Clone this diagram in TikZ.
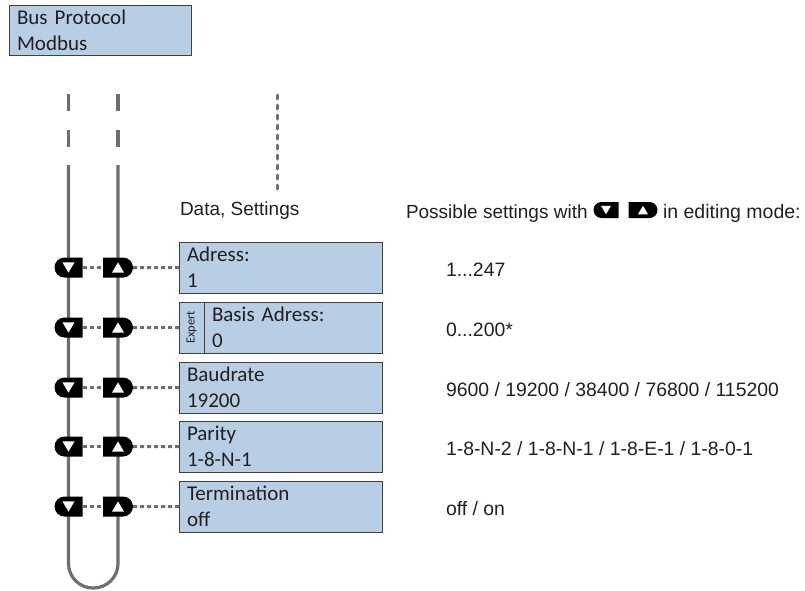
\documentclass[tikz,border=0pt]{standalone}
\usepackage{fontspec}
\setmainfont{Carlito}
\newfontfamily\arialfont{Liberation Sans}
\usepackage{graphicx}
\usepackage{xcolor}
\usetikzlibrary{positioning,shapes.misc}
\definecolor{boxblue}{RGB}{184,206,228}
\definecolor{boxline}{RGB}{64,64,64}
\definecolor{loopgray}{RGB}{110,110,110}
\definecolor{txt}{RGB}{35,31,32}

\begin{document}
\begin{tikzpicture}[x=1pt, y=-1pt, outer sep=0pt,
    menubox/.style={rectangle, draw=boxline, line width=1pt, fill=boxblue, text=txt,
      minimum height=51pt, inner xsep=8pt, inner ysep=0pt, align=left, anchor=north west,
      font=\fontsize{21pt}{26pt}\selectfont},
    expertbox/.style={rectangle, draw=boxline, line width=1pt, fill=boxblue, text=txt,
      minimum width=25pt, minimum height=51pt, inner sep=0pt, anchor=north west},
    keybtn/.style={rounded rectangle, fill=black, inner sep=0pt},
    keydown/.style={keybtn, rounded rectangle right arc=none,
      path picture={\fill[white] ([xshift=-#1,yshift=0.85*#1]path picture bounding box.center)
        -- ++(2*#1,0pt) -- ++(-#1,-1.7*#1) -- cycle;}},
    keyup/.style={keybtn, rounded rectangle left arc=none,
      path picture={\fill[white] ([xshift=-#1,yshift=-0.85*#1]path picture bounding box.center)
        -- ++(2*#1,0pt) -- ++(-#1,1.7*#1) -- cycle;}},
    loopline/.style={draw=loopgray, line width=3.2pt},
    keylink/.style={draw=loopgray, line width=3pt, dash pattern=on 4pt off 3pt},
    annot/.style={text=txt, inner sep=0pt, anchor=base west, font=\arialfont\fontsize{19pt}{22pt}\selectfont},
    valtext/.style={annot, font=\arialfont\fontsize{19.4pt}{22pt}\selectfont}
  ]
  \useasboundingbox (0,0) rectangle (805,590);

  % Header
  \node[menubox, text width=166pt, minimum height=50pt] (bus) at (9,5) {Bus Protocol\\Modbus};

  % Loop lines
  \foreach \lx in {68.5,118} {
    \draw[loopline] (\lx,94) -- (\lx,111);
    \draw[loopline] (\lx,130) -- (\lx,147);
  }
  \draw[loopline, rounded corners=24.5pt] (68.5,165) -- (68.5,588) -- (118,588) -- (118,165);
  \coordinate (dnx) at (68.5,0);
  \coordinate (upx) at (118,0);

  % Data, Settings
  \coordinate (dottop) at (277,95);
  \coordinate (dotend) at (277,190);
  \draw[loopline, line width=3pt, dash pattern=on 4pt off 6pt, line cap=round] (dottop) -- (dotend);
  \node[annot] (data) at (180,215) {Data, Settings};

  % Menu boxes
  \node[menubox, text width=187pt] (adr) at (179,242) {Adress:\\1};
  \node[expertbox] (expert) at (179,302) {\rotatebox{90}{\fontsize{12.5pt}{13pt}\selectfont Expert}};
  \node[menubox, text width=162pt] (bas) at (204,302) {Basis Adress:\\0};
  \node[menubox, text width=187pt] (baud) at (179,362) {Baudrate\\19200};
  \node[menubox, text width=187pt] (par) at (179,421) {Parity\\1-8-N-1};
  \node[menubox, text width=187pt] (term) at (179,481) {Termination\\off};

  % Keys
  \foreach \b/\t in {adr/adr, bas/expert, baud/baud, par/par, term/term} {
    \node[keydown=6pt, minimum width=28pt, minimum height=20pt] (dn-\b) at (\t.west -| dnx) {};
    \node[keyup=6pt, minimum width=30pt, minimum height=20pt] (up-\b) at (\t.west -| upx) {};
    \draw[keylink] (dn-\b) -- (up-\b);
    \draw[keylink] (up-\b) -- (\t);
  }

  % Possible settings
  \node[annot] (poss) at (406,218) {Possible settings with};
  \node[keydown=5pt, minimum width=25pt, minimum height=16pt] (hdn) at (606,210) {};
  \node[keyup=5pt, minimum width=29pt, minimum height=16pt] (hup) at (643,210) {};
  \node[annot, font=\arialfont\fontsize{19.5pt}{22pt}\selectfont] (mode) at (663,218) {in editing mode:};

  \node[valtext] (v-adr) at (446,276) {1...247};
  \node[valtext] (v-bas) at (446,336) {0...200*};
  \node[valtext] (v-baud) at (446,396) {9600 / 19200 / 38400 / 76800 / 115200};
  \node[valtext] (v-par) at (446,455) {1-8-N-2 / 1-8-N-1 / 1-8-E-1 / 1-8-0-1};
  \node[valtext] (v-term) at (446,515) {off / on};
\end{tikzpicture}
\end{document}
